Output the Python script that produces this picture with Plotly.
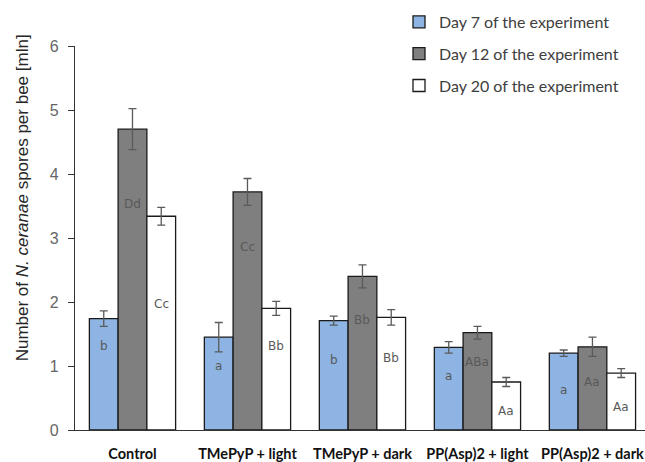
import plotly.graph_objects as go

categories = ["Control", "TMePyP + light", "TMePyP + dark", "PP(Asp)2 + light", "PP(Asp)2 + dark"]
series_names = ["Day 7 of the experiment", "Day 12 of the experiment", "Day 20 of the experiment"]

day7 = [1.74, 1.45, 1.71, 1.29, 1.20]
day12 = [4.70, 3.72, 2.40, 1.52, 1.30]
day20 = [3.34, 1.90, 1.76, 0.75, 0.89]

err7 = [0.12, 0.23, 0.07, 0.09, 0.05]
err12 = [0.32, 0.21, 0.18, 0.10, 0.15]
err20 = [0.14, 0.11, 0.12, 0.07, 0.07]

labels7 = ["b", "a", "b", "a", "a"]
labels12 = ["Dd", "Cc", "Bb", "ABa", "Aa"]
labels20 = ["Cc", "Bb", "Bb", "Aa", "Aa"]

# vertical position (data units) of the letters inside bars
label_y7 = [1.32, 1.00, 1.10, 0.85, 0.63]
label_y12 = [3.53, 2.86, 1.72, 1.06, 0.75]
label_y20 = [1.97, 1.31, 1.13, 0.29, 0.36]

y_ticks = [0, 1, 2, 3, 4, 5, 6]

colors = ["#8DB4E2", "#7F7F7F", "#FFFFFF"]
values = [day7, day12, day20]
errors = [err7, err12, err20]
labels = [labels7, labels12, labels20]
label_ys = [label_y7, label_y12, label_y20]

x = list(range(len(categories)))

fig = go.Figure()
for i in range(3):
    fig.add_trace(go.Bar(
        x=x, y=values[i], name=series_names[i],
        marker=dict(color=colors[i], line=dict(color="#1a1a1a", width=1.3)),
        error_y=dict(type="data", array=errors[i], color="#5a5a5a", thickness=1.3, width=4),
        legendgroup=str(i),
    ))

bar_w = 0.25
annotations = []
for i in range(3):
    off = (i - 1) * bar_w
    for j, cat in enumerate(categories):
        annotations.append(dict(
            x=j + off, y=label_ys[i][j], xref="x", yref="y", text=labels[i][j],
            showarrow=False, font=dict(family="DejaVu Sans", size=12, color="#595959"),
        ))

annotations.append(dict(
    x=-0.112, y=0.605, xref="paper", yref="paper",
    text="Number of <i>N. ceranae</i> spores per bee [mln]",
    textangle=-90, showarrow=False,
    font=dict(family="Liberation Sans", size=17, color="#262626"),
))

fig.update_layout(
    width=645, height=462,
    margin=dict(l=75, r=0, t=46, b=32, pad=0, autoexpand=False),
    plot_bgcolor="white", paper_bgcolor="white",
    barmode="group", bargap=0.25, bargroupgap=0,
    annotations=annotations,
    legend=dict(
        x=399 / 645, y=1 - 5 / 462, xref="container", yref="container",
        xanchor="left", yanchor="top",
        bgcolor="rgba(0,0,0,0)",
        font=dict(family="Lato", size=16, color="#404040"),
        tracegroupgap=8, itemwidth=30,
    ),
    xaxis=dict(
        range=[-0.5, 4.457], tickvals=x, ticktext=categories,
        showline=True, linecolor="#333333", linewidth=1.3,
        ticks="", showgrid=False, zeroline=False, automargin=False,
        tickfont=dict(family="Lato", size=14.5, color="#111111", weight="bold"),
        ticklabelstandoff=10,
    ),
    yaxis=dict(
        range=[0, 6], tickvals=y_ticks,
        showline=True, linecolor="#333333", linewidth=1.3,
        ticks="outside", ticklen=6, tickcolor="#333333", tickwidth=1.3,
        showgrid=False, zeroline=False, automargin=False,
        tickfont=dict(family="Liberation Sans", size=16, color="#666666"),
        ticklabelstandoff=6,
    ),
    yaxis2=dict(
        range=[0, 6], tickvals=y_ticks, overlaying="y", anchor="x", side="left",
        showline=False, ticks="inside", ticklen=6, tickcolor="#333333", tickwidth=1.3,
        showticklabels=False, showgrid=False, zeroline=False, automargin=False,
    ),
)

fig.write_html(
    "out.html",
    config={"displayModeBar": False},
    post_script="document.body.style.margin='0';document.body.style.padding='0';document.body.style.overflow='hidden';",
)
